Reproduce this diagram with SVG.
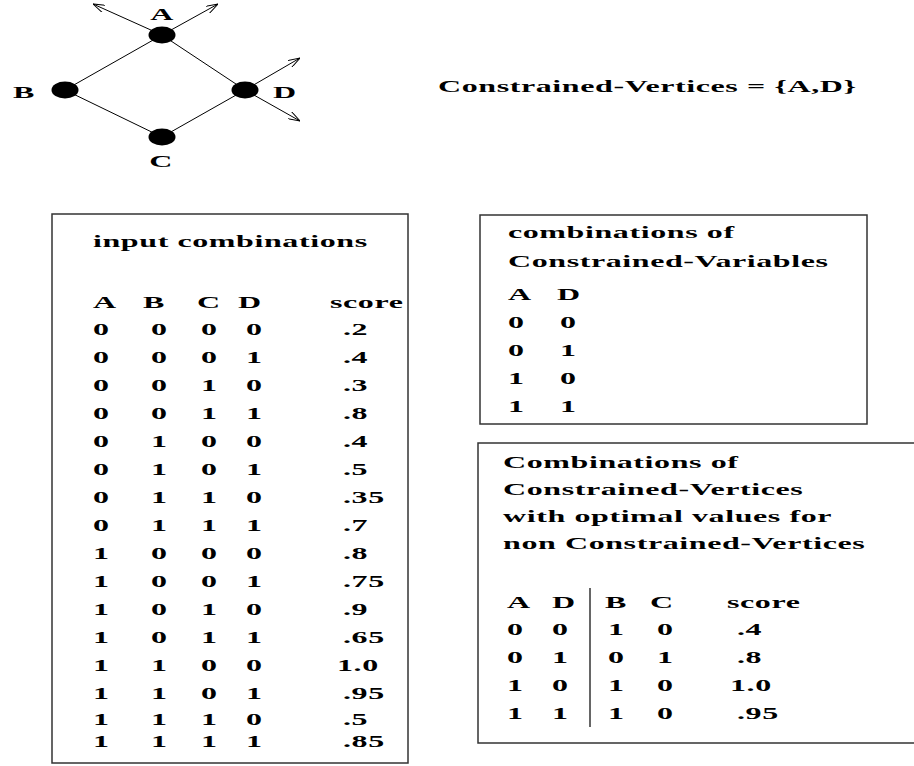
<svg xmlns="http://www.w3.org/2000/svg" width="914" height="766" viewBox="0 0 914 766">
  <style>
    .t { font-family: 'Liberation Serif', 'Times New Roman', 'DejaVu Serif', serif; font-weight: 700; font-size: 16px; fill: #000; letter-spacing: 0.3px; }
    .m { text-anchor: middle; }
    .box { fill: none; stroke: #333; stroke-width: 1.5; }
    .edge { stroke: #000; stroke-width: 1; fill: none; }
    .vertex { fill: #000; }
  </style>
  <defs>
    <marker id="open-arrow" viewBox="0 0 12 8" refX="12" refY="4" markerWidth="12" markerHeight="8" markerUnits="userSpaceOnUse" orient="auto">
      <path d="M0,0 L12,4 L0,8" fill="none" stroke="#000" stroke-width="1"/>
    </marker>
  </defs>
  <rect width="914" height="766" fill="#fff"/>

  <!-- graph edges and outgoing arrows -->
  <g id="connectors">
    <line class="edge" x1="162" y1="35" x2="65" y2="90"/>
    <line class="edge" x1="162" y1="35" x2="245" y2="90"/>
    <line class="edge" x1="65" y1="90" x2="162" y2="137"/>
    <line class="edge" x1="162" y1="137" x2="245" y2="90"/>
    <line class="edge" x1="162" y1="35" x2="93" y2="4" marker-end="url(#open-arrow)"/>
    <line class="edge" x1="162" y1="35" x2="218" y2="4" marker-end="url(#open-arrow)"/>
    <line class="edge" x1="245" y1="90" x2="300" y2="58" marker-end="url(#open-arrow)"/>
    <line class="edge" x1="245" y1="90" x2="300" y2="121" marker-end="url(#open-arrow)"/>
  </g>

  <!-- graph vertices -->
  <g id="node-A"><ellipse class="vertex" cx="162" cy="35" rx="13.5" ry="8.5"/></g>
  <g id="node-B"><ellipse class="vertex" cx="65" cy="90" rx="13.5" ry="8.5"/></g>
  <g id="node-C"><ellipse class="vertex" cx="162" cy="137" rx="13.5" ry="8.5"/></g>
  <g id="node-D"><ellipse class="vertex" cx="245" cy="90" rx="13.5" ry="8.5"/></g>

  <!-- frames -->
  <rect id="box-input" class="box" x="52" y="214" width="356" height="549"/>
  <rect id="box-constrained" class="box" x="480" y="215" width="387" height="209"/>
  <path id="box-optimal" class="box" d="M914,443 H478 V743 H914"/>
  <line class="box" x1="590" y1="588" x2="590" y2="727"/>

  <!-- all lettering is set wide: local x units are half of page units -->
  <g transform="scale(2 1)" font-family="Liberation Serif, serif" font-weight="bold">
    <g id="labels">
      <text class="t m" x="81" y="20">A</text>
      <text class="t" x="6.5" y="98">B</text>
      <text class="t" x="136.5" y="98">D</text>
      <text class="t m" x="80.5" y="167">C</text>
      <text class="t" x="219" y="92">Constrained-Vertices = {A,D}</text>
    </g>

    <g id="table-input">
      <text class="t" x="46.5" y="247">input combinations</text>
      <text class="t" x="46.5" y="308">A</text>
      <text class="t" x="71.5" y="308">B</text>
      <text class="t" x="98.5" y="308">C</text>
      <text class="t" x="119" y="308">D</text>
      <text class="t" x="165" y="308">score</text>

      <text class="t" y="335"><tspan x="46.5">0</tspan><tspan x="75.5">0</tspan><tspan x="100.5">0</tspan><tspan x="123">0</tspan><tspan x="171.5">.2</tspan></text>
      <text class="t" y="363"><tspan x="46.5">0</tspan><tspan x="75.5">0</tspan><tspan x="100.5">0</tspan><tspan x="123">1</tspan><tspan x="171.5">.4</tspan></text>
      <text class="t" y="391"><tspan x="46.5">0</tspan><tspan x="75.5">0</tspan><tspan x="100.5">1</tspan><tspan x="123">0</tspan><tspan x="171.5">.3</tspan></text>
      <text class="t" y="419"><tspan x="46.5">0</tspan><tspan x="75.5">0</tspan><tspan x="100.5">1</tspan><tspan x="123">1</tspan><tspan x="171.5">.8</tspan></text>
      <text class="t" y="447"><tspan x="46.5">0</tspan><tspan x="75.5">1</tspan><tspan x="100.5">0</tspan><tspan x="123">0</tspan><tspan x="171.5">.4</tspan></text>
      <text class="t" y="475"><tspan x="46.5">0</tspan><tspan x="75.5">1</tspan><tspan x="100.5">0</tspan><tspan x="123">1</tspan><tspan x="171.5">.5</tspan></text>
      <text class="t" y="503"><tspan x="46.5">0</tspan><tspan x="75.5">1</tspan><tspan x="100.5">1</tspan><tspan x="123">0</tspan><tspan x="171.5">.35</tspan></text>
      <text class="t" y="531"><tspan x="46.5">0</tspan><tspan x="75.5">1</tspan><tspan x="100.5">1</tspan><tspan x="123">1</tspan><tspan x="171.5">.7</tspan></text>
      <text class="t" y="559"><tspan x="46.5">1</tspan><tspan x="75.5">0</tspan><tspan x="100.5">0</tspan><tspan x="123">0</tspan><tspan x="171.5">.8</tspan></text>
      <text class="t" y="587"><tspan x="46.5">1</tspan><tspan x="75.5">0</tspan><tspan x="100.5">0</tspan><tspan x="123">1</tspan><tspan x="171.5">.75</tspan></text>
      <text class="t" y="615"><tspan x="46.5">1</tspan><tspan x="75.5">0</tspan><tspan x="100.5">1</tspan><tspan x="123">0</tspan><tspan x="171.5">.9</tspan></text>
      <text class="t" y="643"><tspan x="46.5">1</tspan><tspan x="75.5">0</tspan><tspan x="100.5">1</tspan><tspan x="123">1</tspan><tspan x="171.5">.65</tspan></text>
      <text class="t" y="671"><tspan x="46.5">1</tspan><tspan x="75.5">1</tspan><tspan x="100.5">0</tspan><tspan x="123">0</tspan><tspan x="168.5">1.0</tspan></text>
      <text class="t" y="699"><tspan x="46.5">1</tspan><tspan x="75.5">1</tspan><tspan x="100.5">0</tspan><tspan x="123">1</tspan><tspan x="171.5">.95</tspan></text>
      <text class="t" y="725"><tspan x="46.5">1</tspan><tspan x="75.5">1</tspan><tspan x="100.5">1</tspan><tspan x="123">0</tspan><tspan x="171.5">.5</tspan></text>
      <text class="t" y="747"><tspan x="46.5">1</tspan><tspan x="75.5">1</tspan><tspan x="100.5">1</tspan><tspan x="123">1</tspan><tspan x="171.5">.85</tspan></text>
    </g>

    <g id="table-constrained">
      <text class="t" x="254" y="238">combinations of</text>
      <text class="t" x="254" y="267">Constrained-Variables</text>
      <text class="t" y="300"><tspan x="254">A</tspan><tspan x="278.5">D</tspan></text>
      <text class="t" y="328"><tspan x="254">0</tspan><tspan x="280">0</tspan></text>
      <text class="t" y="356"><tspan x="254">0</tspan><tspan x="280">1</tspan></text>
      <text class="t" y="384"><tspan x="254">1</tspan><tspan x="280">0</tspan></text>
      <text class="t" y="412"><tspan x="254">1</tspan><tspan x="280">1</tspan></text>
    </g>

    <g id="table-optimal">
      <text class="t" x="251.5" y="468">Combinations of</text>
      <text class="t" x="251.5" y="495">Constrained-Vertices</text>
      <text class="t" x="251.5" y="522">with optimal values for</text>
      <text class="t" x="251.5" y="549">non Constrained-Vertices</text>
      <text class="t" y="608"><tspan x="253.5">A</tspan><tspan x="276">D</tspan><tspan x="302.5">B</tspan><tspan x="325">C</tspan><tspan x="363.5">score</tspan></text>
      <text class="t" y="635"><tspan x="253.5">0</tspan><tspan x="276">0</tspan><tspan x="304">1</tspan><tspan x="328.5">0</tspan><tspan x="368.5">.4</tspan></text>
      <text class="t" y="663"><tspan x="253.5">0</tspan><tspan x="276">1</tspan><tspan x="304">0</tspan><tspan x="328.5">1</tspan><tspan x="368.5">.8</tspan></text>
      <text class="t" y="691"><tspan x="253.5">1</tspan><tspan x="276">0</tspan><tspan x="304">1</tspan><tspan x="328.5">0</tspan><tspan x="365">1.0</tspan></text>
      <text class="t" y="719"><tspan x="253.5">1</tspan><tspan x="276">1</tspan><tspan x="304">1</tspan><tspan x="328.5">0</tspan><tspan x="368.5">.95</tspan></text>
    </g>
  </g>
</svg>
